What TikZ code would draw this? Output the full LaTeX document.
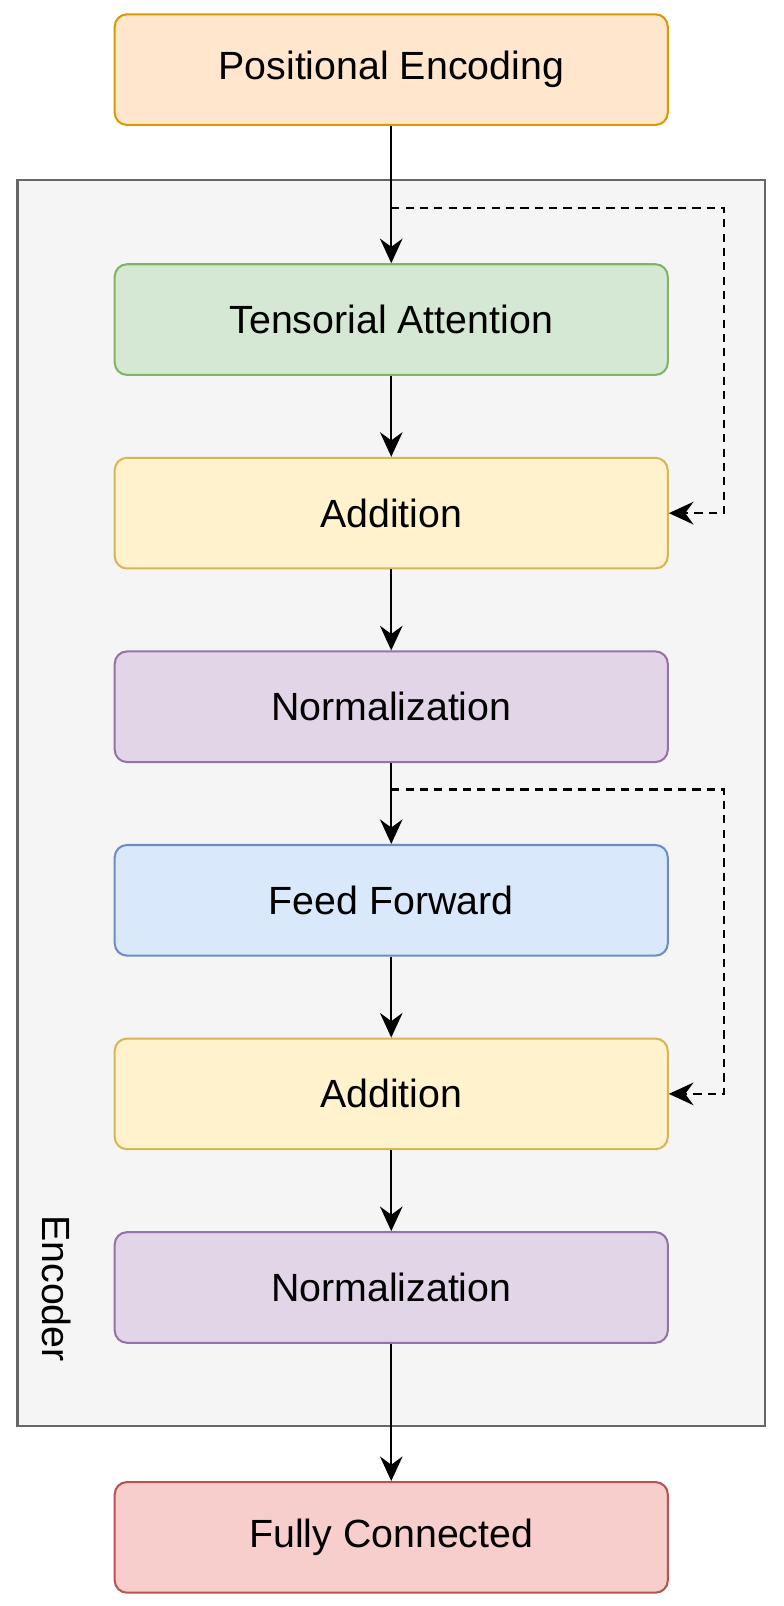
\documentclass[tikz,border=0pt]{standalone}
\usepackage{fontspec}
\setmainfont{Liberation Sans}
\usetikzlibrary{arrows.meta}
\definecolor{peFill}{HTML}{FFE6CC}\definecolor{peLine}{HTML}{D79B00}
\definecolor{taFill}{HTML}{D5E8D4}\definecolor{taLine}{HTML}{82B366}
\definecolor{adFill}{HTML}{FFF2CC}\definecolor{adLine}{HTML}{D6B656}
\definecolor{nmFill}{HTML}{E1D5E7}\definecolor{nmLine}{HTML}{9673A6}
\definecolor{ffFill}{HTML}{DAE8FC}\definecolor{ffLine}{HTML}{6C8EBF}
\definecolor{fcFill}{HTML}{F8CECC}\definecolor{fcLine}{HTML}{B85450}
\definecolor{encFill}{HTML}{F5F5F5}\definecolor{encLine}{HTML}{666666}

\begin{document}
\begin{tikzpicture}[x=0.5pt, y=-0.5pt,
    block/.style={draw, line width=1pt, rounded corners=6pt, minimum width=270pt,
      minimum height=54pt, inner sep=0pt, font=\fontsize{19.2}{23}\selectfont},
    flow/.style={line width=1.2pt, -{Stealth[length=12pt, width=11pt, inset=4pt]}},
    skip/.style={flow, dash pattern=on 4pt off 3pt}]
    \useasboundingbox (0,0) rectangle (765,1568);
    % encoder frame
    \draw[line width=1.1pt, draw=encLine, fill=encFill] (17,176) rectangle (747,1392);
    \node[rotate=-90, font=\fontsize{19.2}{23}\selectfont] (enc) at (55,1258) {Encoder};
    % blocks
    \node[block, fill=peFill, draw=peLine] (pe) at (382,68) {Positional Encoding};
    \node[block, fill=taFill, draw=taLine] (att) at (382,312) {Tensorial Attention};
    \node[block, fill=adFill, draw=adLine] (add1) at (382,501) {Addition};
    \node[block, fill=nmFill, draw=nmLine] (norm1) at (382,690) {Normalization};
    \node[block, fill=ffFill, draw=ffLine] (ff) at (382,879) {Feed Forward};
    \node[block, fill=adFill, draw=adLine] (add2) at (382,1068) {Addition};
    \node[block, fill=nmFill, draw=nmLine] (norm2) at (382,1257) {Normalization};
    \node[block, fill=fcFill, draw=fcLine] (fc) at (382,1501) {Fully Connected};
    % main path
    \draw[flow] (pe) -- (att);
    \draw[flow] (att) -- (add1);
    \draw[flow] (add1) -- (norm1);
    \draw[flow] (norm1) -- (ff);
    \draw[flow] (ff) -- (add2);
    \draw[flow] (add2) -- (norm2);
    \draw[flow] (norm2) -- (fc);
    % residual paths
    \coordinate (s1) at (382,203);
    \coordinate (r1) at (707,203);
    \coordinate (s2) at (382,771);
    \coordinate (r2) at (707,771);
    \draw[skip] (s1) -- (r1) |- (add1.east);
    \draw[skip] (s2) -- (r2) |- (add2.east);
\end{tikzpicture}
\end{document}
